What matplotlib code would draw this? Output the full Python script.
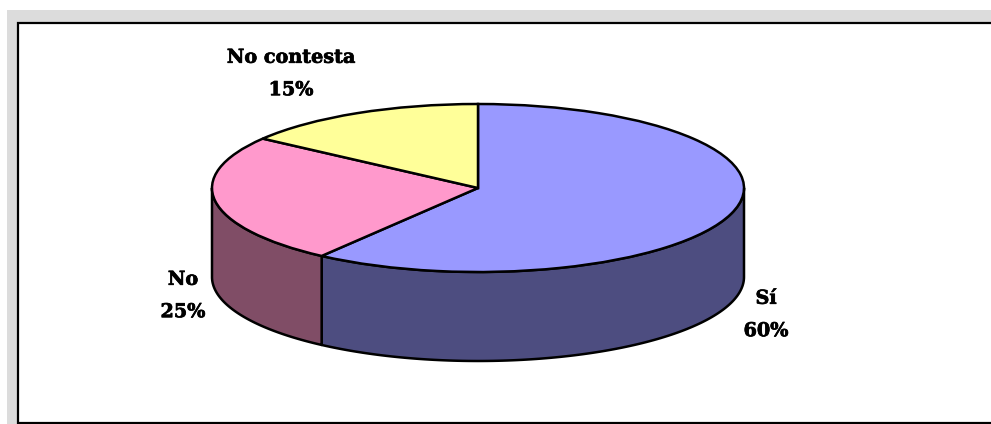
import numpy as np
import matplotlib
matplotlib.use("Agg")
import matplotlib.pyplot as plt
import matplotlib.patheffects as pe
from matplotlib.patches import Rectangle

categories = ["Sí", "No", "No contesta"]
values = [60, 25, 15]
top_colors = ["#9999FF", "#FF99CC", "#FFFF99"]
side_colors = ["#4D4D80", "#804D66", "#80804D"]

W, H = 991, 424
CX, CY, RX, RY, DEPTH = 478, 188, 266, 84, 89

fig = plt.figure(figsize=(W / 100, H / 100), dpi=100, facecolor="white")
bg = fig.add_axes([0, 0, 1, 1])
bg.set_xlim(0, W); bg.set_ylim(H, 0); bg.axis("off")
bg.add_patch(Rectangle((7, 10), W - 7, H - 10, fc="#DCDCDC", ec="none"))
bg.add_patch(Rectangle((18, 23), W, 400, fc="white", ec="black", lw=1.6))

ax = fig.add_axes([0, 0, 1, 1])
ax.patch.set_alpha(0)
depth = DEPTH / RY

# side wall
fr = np.cumsum([0] + values) / sum(values) * 2 * np.pi
for i in range(len(values)):
    a, b = fr[i], fr[i + 1]
    lo, hi = max(a, np.pi / 2), min(b, 3 * np.pi / 2)
    if hi <= lo:
        continue
    t = np.linspace(lo, hi, 120)
    x = np.sin(t); y = np.cos(t)
    ax.fill(np.r_[x, x[::-1]], np.r_[y, y[::-1] - depth],
            fc=side_colors[i], ec="black", lw=1.8, joinstyle="round", zorder=1)

# top face
wedges, _ = ax.pie(values, colors=top_colors, startangle=90, counterclock=False,
                   radius=1, wedgeprops=dict(ec="black", lw=1.8, zorder=2))
ax.set_aspect("auto")
ax.set_xlim(-CX / RX, (W - CX) / RX)
ax.set_ylim(-(H - CY) / RY, CY / RY)
ax.axis("off")

lab = dict(family="DejaVu Serif", fontweight="bold", fontsize=13.8, color="black",
           ha="center", va="center", transform=bg.transData, linespacing=2.03,
           path_effects=[pe.withStroke(linewidth=0.5, foreground="black")])
label_xy = [(766, 315), (183, 296), (291, 74)]
for c, v, (lx, ly) in zip(categories, values, label_xy):
    bg.text(lx, ly, f"{c}\n{v}%", zorder=5, **lab)

fig.savefig("out.png", dpi=100, facecolor="white")
